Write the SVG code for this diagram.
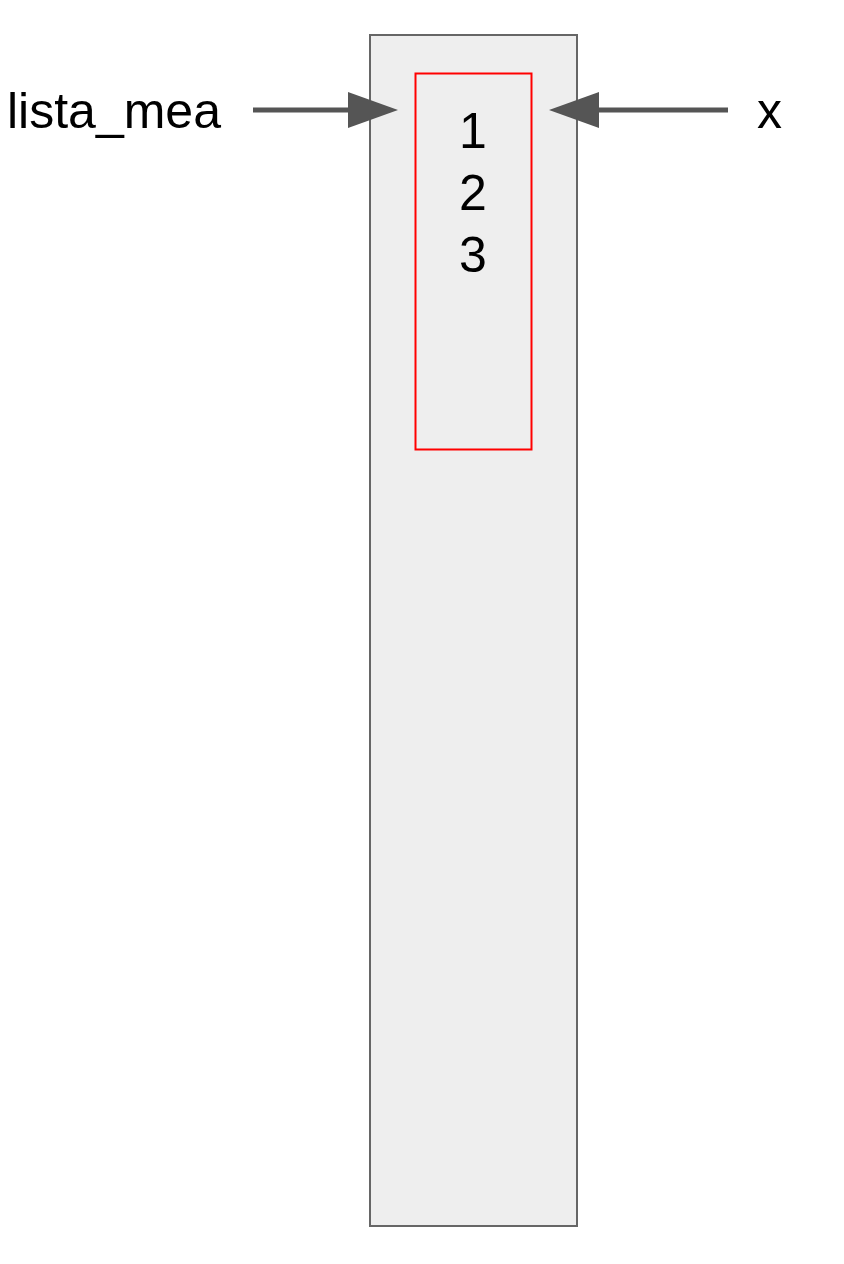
<svg xmlns="http://www.w3.org/2000/svg" width="844" height="1264" viewBox="0 0 844 1264">
<style>
.t{font-family:"Liberation Sans",Arial,sans-serif;font-size:50px;fill:#000}
.c{stroke:#555;stroke-width:5;fill:none}
</style>
<defs>
<marker id="ah" markerUnits="userSpaceOnUse" markerWidth="52" markerHeight="38" refX="22" refY="19" orient="auto">
<path d="M0,1 L50,19 L0,37 Z" fill="#555"/>
</marker>
</defs>
<rect width="844" height="1264" fill="#fff"/>
<g id="outer">
<rect x="370" y="35" width="207" height="1191" fill="#eeeeee" stroke="#666" stroke-width="2"/>
</g>
<g id="inner">
<rect x="415.5" y="73.5" width="116" height="376" fill="none" stroke="#ff0000" stroke-width="2"/>
<text class="t" x="473" y="148" text-anchor="middle">1</text>
<text class="t" x="473" y="210" text-anchor="middle">2</text>
<text class="t" x="473" y="272" text-anchor="middle">3</text>
</g>
<g id="label-lista">
<text class="t" x="7" y="128">lista_mea</text>
</g>
<g id="label-x">
<text class="t" x="757" y="128">x</text>
</g>
<g id="connectors">
<line class="c" x1="253" y1="110" x2="370" y2="110" marker-end="url(#ah)"/>
<line class="c" x1="728" y1="110" x2="577" y2="110" marker-end="url(#ah)"/>
</g>
</svg>
